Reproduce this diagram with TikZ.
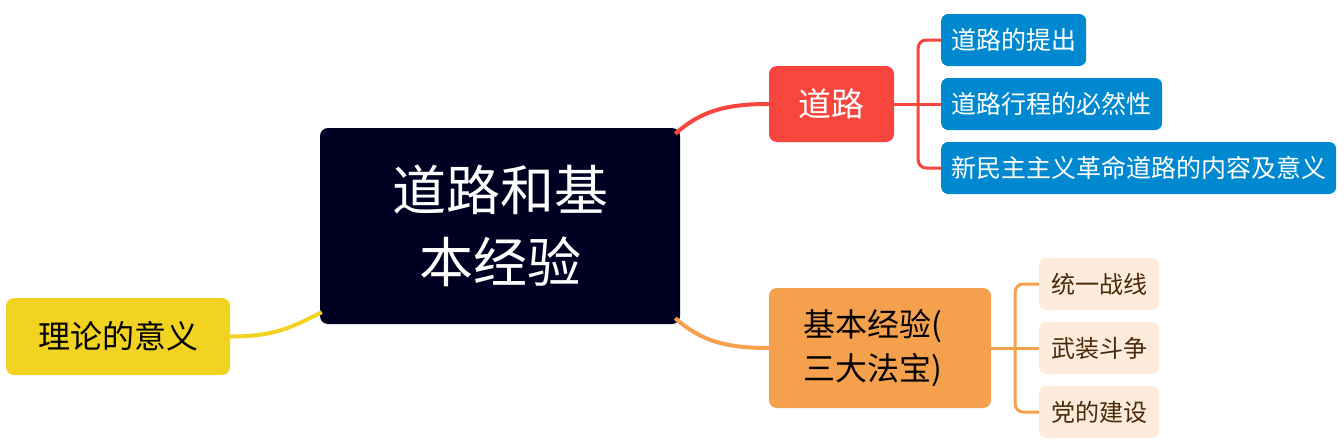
\documentclass[tikz,border=0pt]{standalone}
\usepackage{fontspec}
\setmainfont{Noto Sans CJK SC}
\begin{document}
\begin{tikzpicture}[x=1pt,y=-1pt,
  box/.style={rounded corners=8pt, inner sep=0pt, font=\fontsize{32}{44}\selectfont},
  leaf/.style={rounded corners=7pt, inner sep=0pt, font=\fontsize{25}{30}\selectfont},
  conn/.style={line width=4pt},
  sub/.style={line width=3pt, rounded corners=8pt}]
\definecolor{navy}{RGB}{0,0,34}
\definecolor{redc}{RGB}{248,69,61}
\definecolor{bluec}{RGB}{0,137,208}
\definecolor{orangec}{RGB}{245,160,77}
\definecolor{peach}{RGB}{253,235,219}
\definecolor{yellowc}{RGB}{242,211,34}
\definecolor{brownt}{RGB}{74,42,10}
\useasboundingbox (0,0) rectangle (1344,447);
% nodes
\node[box, fill=navy, text=white, minimum width=360pt, minimum height=196pt, align=center, font=\fontsize{54}{72}\selectfont] (c) at (500,226) {道路和基\\本经验};
\node[box, fill=redc, text=white, minimum width=125pt, minimum height=76pt, font=\fontsize{33}{40}\selectfont] (d) at (831.5,104) {道路};
\node[box, fill=orangec, text=black, minimum width=222pt, minimum height=120pt, text width=154pt, align=left] (j) at (880,348) {基本经验(\\三大法宝)};
\node[box, fill=yellowc, text=black, minimum width=224pt, minimum height=77pt] (l) at (118,336.5) {理论的意义};
% blue leaves
\node[leaf, fill=bluec, text=white, anchor=west, minimum width=145pt, minimum height=52pt] (b1) at (941,40) {道路的提出};
\node[leaf, fill=bluec, text=white, anchor=west, minimum width=221pt, minimum height=52pt] (b2) at (941,104) {道路行程的必然性};
\node[leaf, fill=bluec, text=white, anchor=west, minimum width=395pt, minimum height=52pt] (b3) at (941,168) {新民主主义革命道路的内容及意义};
% peach leaves
\node[leaf, fill=peach, text=brownt, anchor=west, minimum width=120pt, minimum height=52pt, font=\fontsize{24}{28}\selectfont] (p1) at (1039,284) {统一战线};
\node[leaf, fill=peach, text=brownt, anchor=west, minimum width=120pt, minimum height=52pt, font=\fontsize{24}{28}\selectfont] (p2) at (1039,348) {武装斗争};
\node[leaf, fill=peach, text=brownt, anchor=west, minimum width=120pt, minimum height=52pt, font=\fontsize{24}{28}\selectfont] (p3) at (1039,412) {党的建设};
% main connectors
\draw[conn, redc] ([xshift=-5pt,yshift=-6pt]c.north east) .. controls +(25,-22) and +(-45,0) .. (d.west);
\draw[conn, orangec] ([xshift=-5pt,yshift=6pt]c.south east) .. controls +(25,22) and +(-45,0) .. (j.west);
\draw[conn, yellowc] ([xshift=2pt,yshift=12pt]c.south west) .. controls +(-30,15) and +(45,0) .. (l.east);
% sub connectors
\coordinate (dr) at ([xshift=24pt]d.east);
\draw[sub, redc] (d.east) -- (b2.west);
\draw[sub, redc] (b1.west) -| (dr) |- (b3.west);
\coordinate (jr) at ([xshift=24pt]j.east);
\draw[sub, orangec] (j.east) -- (p2.west);
\draw[sub, orangec] (p1.west) -| (jr) |- (p3.west);
\end{tikzpicture}
\end{document}
